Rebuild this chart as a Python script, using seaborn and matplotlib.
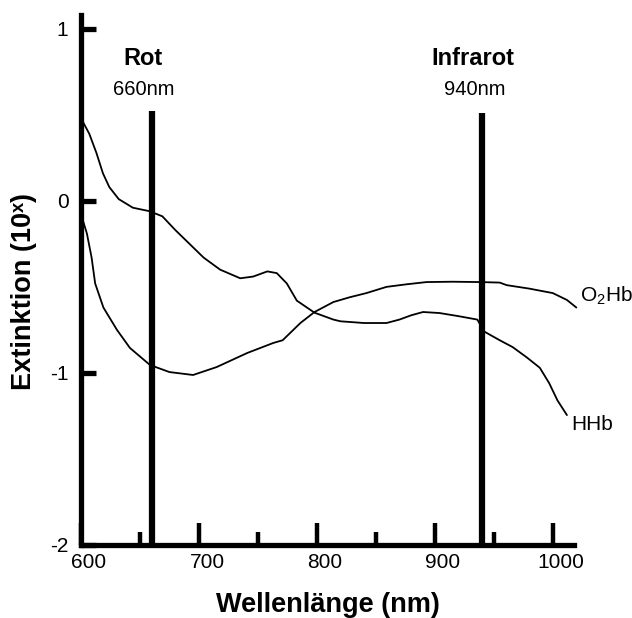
import numpy as np
import pandas as pd
import matplotlib
matplotlib.use("Agg")
import matplotlib.pyplot as plt
import matplotlib.transforms as mtransforms
import seaborn as sns

# ---- data ----
hhb_nm = [600, 607, 613, 618.6, 624, 632, 644, 658, 669, 680, 695, 704, 718, 735,
          746, 758, 766, 774.5, 783, 798, 814, 820, 840, 859, 870, 880, 890, 904,
          920, 936, 942, 955, 966, 978, 989, 997, 1004, 1012]
hhb_ext = [0.48, 0.39, 0.28, 0.16, 0.08, 0.01, -0.04, -0.06, -0.09, -0.17, -0.27,
           -0.33, -0.40, -0.45, -0.44, -0.41, -0.42, -0.48, -0.58, -0.65, -0.69,
           -0.70, -0.71, -0.71, -0.69, -0.665, -0.646, -0.652, -0.67, -0.69, -0.76,
           -0.81, -0.85, -0.91, -0.97, -1.06, -1.16, -1.245]

o2hb_nm = [600, 601, 605, 609, 612, 619, 630.5, 641.5, 658.5, 675, 695, 715, 741,
           763, 771, 786, 798, 814, 828, 842, 859, 876, 893, 915, 938, 955, 961,
           980, 1000, 1012, 1020]
o2hb_ext = [-0.06, -0.10, -0.19, -0.33, -0.48, -0.62, -0.75, -0.855, -0.954, -0.995,
            -1.012, -0.966, -0.884, -0.826, -0.81, -0.71, -0.646, -0.588, -0.56,
            -0.536, -0.50, -0.485, -0.472, -0.47, -0.472, -0.475, -0.49, -0.51,
            -0.536, -0.576, -0.62]

marker_nm = [660, 940]
marker_top = [0.52, 0.51]
marker_titles = ["Rot", "Infrarot"]
marker_sub = ["660nm", "940nm"]

x_major = [600, 700, 800, 900, 1000]
x_minor = [650, 750, 850, 950]
y_ticks = [-2, -1, 0, 1]

# ---- style ----
sns.set_theme(style="ticks", rc={"text.color": "black", "axes.labelcolor": "black",
                                 "xtick.color": "black", "ytick.color": "black",
                                 "axes.edgecolor": "black"})
plt.rcParams['font.family'] = ['Liberation Sans', 'DejaVu Sans']
plt.rcParams['mathtext.fontset'] = 'custom'
plt.rcParams['mathtext.rm'] = 'Liberation Sans'

df = pd.concat([
    pd.DataFrame({"nm": hhb_nm, "ext": hhb_ext, "kind": "HHb"}),
    pd.DataFrame({"nm": o2hb_nm, "ext": o2hb_ext, "kind": "O2Hb"}),
])

fig = plt.figure(figsize=(6.32, 6.18), dpi=100)
ax = fig.add_axes([81/632, 73/618, 493/632, 530/618])

sns.lineplot(data=df, x="nm", y="ext", units="kind", estimator=None, sort=False,
             color="black", linewidth=1.3, ax=ax, legend=False)
for ln in ax.get_lines():
    ln.set_clip_on(False)

for nm, top in zip(marker_nm, marker_top):
    ax.plot([nm, nm], [-2, top], color="black", linewidth=4.5, solid_capstyle="butt")

ax.set_xlim(600, 1018)
ax.set_ylim(-2, 1.08)

for s in ["top", "right"]:
    ax.spines[s].set_visible(False)
for s in ["left", "bottom"]:
    ax.spines[s].set_linewidth(3.8)
    ax.spines[s].set_color("black")

ax.set_xticks(x_major)
ax.set_xticks(x_minor, minor=True)
ax.set_yticks(y_ticks)
ax.set_yticklabels([str(v) for v in y_ticks])
ax.tick_params(axis="x", which="major", direction="in", length=16, width=3.2,
               color="black", labelsize=15, pad=6, bottom=True)
ax.tick_params(axis="x", which="minor", direction="in", length=9.5, width=3.2,
               color="black", bottom=True)
ax.tick_params(axis="y", direction="in", length=11, width=3.8, color="black",
               labelsize=15, pad=9, left=True)

offset = mtransforms.ScaledTranslation(0.08, 0, fig.dpi_scale_trans)
for lab in ax.get_xticklabels():
    lab.set_transform(lab.get_transform() + offset)

ax.set_xlabel("Wellenlänge (nm)", fontsize=19.5, fontweight="bold", labelpad=14)
ax.set_ylabel("Extinktion (10ˣ)", fontsize=19.5, fontweight="bold",
              family=["DejaVu Sans"] if False else ["Liberation Sans", "DejaVu Sans"])
ax.yaxis.set_label_coords(-0.09, 0.478)

for nm, t, s in zip(marker_nm, marker_titles, marker_sub):
    ax.text(nm - 7.5, 0.83, t, ha="center", va="center", fontsize=17,
            fontweight="bold")
    ax.text(nm - 6.5, 0.645, s, ha="center", va="center", fontsize=14.5)

ax.text(1023, -0.55, r"$\mathregular{O_2Hb}$", ha="left", va="center", fontsize=15,
        clip_on=False)
ax.text(1016, -1.30, "HHb", ha="left", va="center", fontsize=15, clip_on=False)

fig.savefig("out.png", dpi=100, facecolor="white")
